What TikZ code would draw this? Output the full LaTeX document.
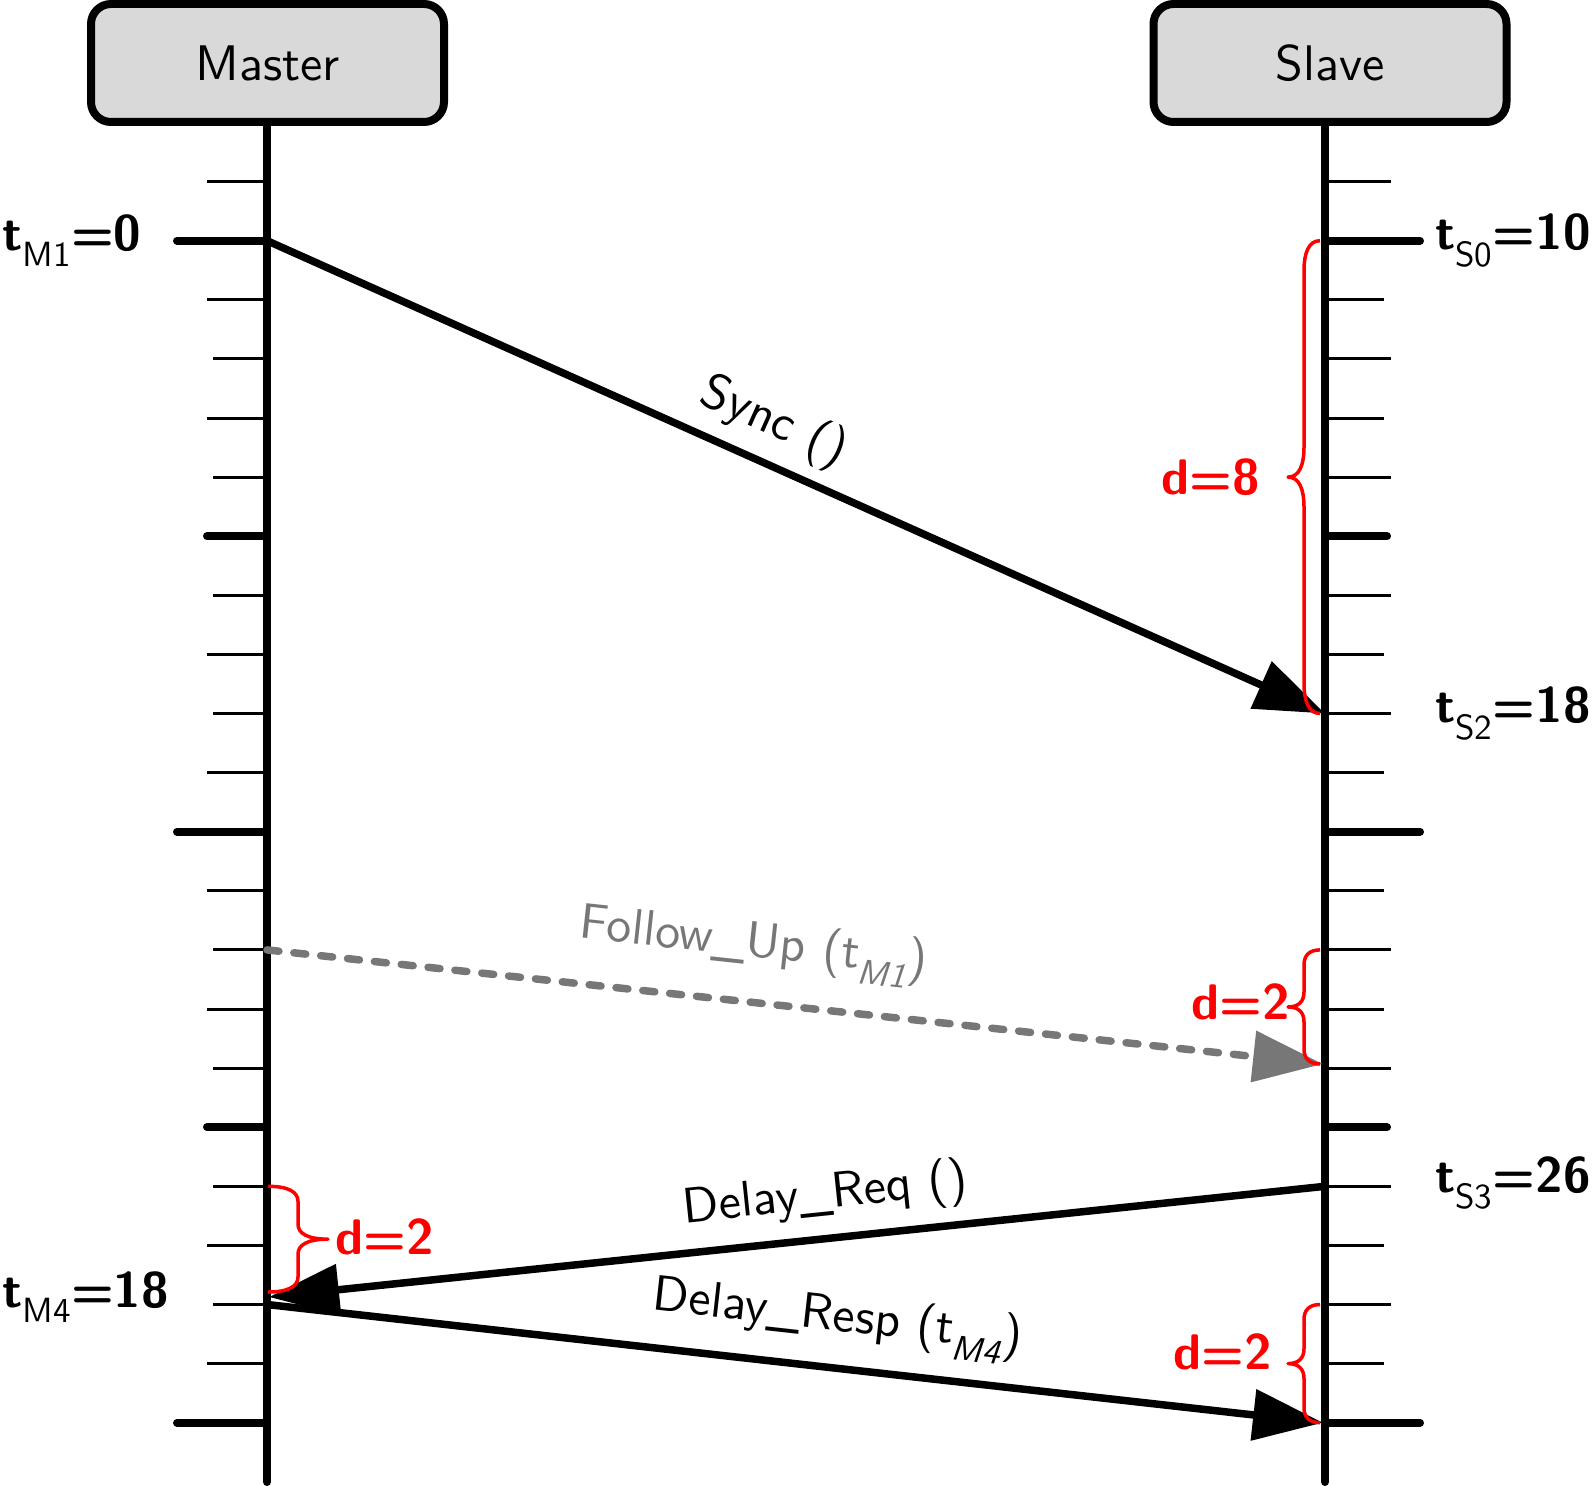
\documentclass[tikz,border=0pt]{standalone}
\usepackage{fontspec}
\setsansfont{lmsans10-regular.otf}[BoldFont=lmsans10-bold.otf, ItalicFont=lmsans10-oblique.otf, SlantedFont=lmsans10-oblique.otf, BoldItalicFont=lmsans10-boldoblique.otf]
\usetikzlibrary{arrows.meta}
\definecolor{boxgray}{RGB}{217,217,217}
\definecolor{msggray}{RGB}{119,119,119}
\newcommand\bigfont{\fontsize{50}{58}\selectfont\sffamily}
\newcommand\dbrace[5]{%
 \pgfmathsetmacro\bxa{#1+0.7*(#4)}%
 \pgfmathsetmacro\bxb{#1+(#4)}%
 \pgfmathsetmacro\bxc{#1+1.3*(#4)}%
 \pgfmathsetmacro\bxd{#1+2*(#4)}%
 \pgfmathsetmacro\bym{(#2+#3)/2}%
 \pgfmathsetmacro\byA{#2+0.4*#5}%
 \pgfmathsetmacro\byB{#2+#5}%
 \pgfmathsetmacro\byC{\bym-#5}%
 \pgfmathsetmacro\byD{\bym-0.4*#5}%
 \pgfmathsetmacro\byE{\bym+0.4*#5}%
 \pgfmathsetmacro\byF{\bym+#5}%
 \pgfmathsetmacro\byG{#3-#5}%
 \pgfmathsetmacro\byH{#3-0.4*#5}%
 \draw[bracered] (#1,#2) .. controls (\bxa,#2) and (\bxb,\byA) .. (\bxb,\byB) -- (\bxb,\byC) .. controls (\bxb,\byD) and (\bxc,\bym) .. (\bxd,\bym) .. controls (\bxc,\bym) and (\bxb,\byE) .. (\bxb,\byF) -- (\bxb,\byG) .. controls (\bxb,\byH) and (\bxa,#3) .. (#1,#3);
}
\begin{document}
\begin{tikzpicture}[x=1pt,y=-1pt,font=\bigfont,
  lifebox/.style={draw=black, line width=8pt, fill=boxgray, rounded corners=20pt,
    minimum width=353pt, minimum height=118pt, inner sep=0pt, font=\bigfont},
  lifeline/.style={line width=8pt, line cap=round},
  thicktick/.style={line width=8pt, line cap=round},
  thintick/.style={line width=3pt},
  msg/.style={line width=7.5pt, -{Triangle[length=70pt,width=50pt]}},
  msglabel/.style={sloped, inner sep=4pt, font=\bigfont},
  bracered/.style={draw=red, line width=3.5pt, line join=round},
  tlabel/.style={font=\bigfont\bfseries, inner sep=0pt, anchor=west},
  dlabel/.style={font=\bigfont\bfseries, text=red, inner sep=0pt}]
\useasboundingbox (0,0) rectangle (1592,1485);

% lifelines
\coordinate (mtop) at (267,126);
\coordinate (mend) at (267,1482);
\coordinate (stop) at (1325,126);
\coordinate (send) at (1325,1482);
\draw[lifeline] (mtop) -- (mend);
\draw[lifeline] (stop) -- (send);

% boxes
\node[lifebox] (master) at (267.5,63) {Master};
\node[lifebox] (slave) at (1330,63) {Slave};

% master ticks
\foreach \k in {0,10,20} {\pgfmathsetmacro\yy{240.7+59.1*\k}
  \draw[thicktick] (177,\yy) -- (267,\yy);}
\foreach \k in {5,15} {\pgfmathsetmacro\yy{240.7+59.1*\k}
  \draw[thicktick] (207,\yy) -- (267,\yy);}
\foreach \k in {-1,1,3,7,9,11,13,17,19} {\pgfmathsetmacro\yy{240.7+59.1*\k}
  \draw[thintick] (207,\yy) -- (265,\yy);}
\foreach \k in {2,4,6,8,12,14,16,18} {\pgfmathsetmacro\yy{240.7+59.1*\k}
  \draw[thintick] (213,\yy) -- (265,\yy);}
% slave ticks
\foreach \k in {0,10,20} {\pgfmathsetmacro\yy{240.7+59.1*\k}
  \draw[thicktick] (1325,\yy) -- (1420,\yy);}
\foreach \k in {5,15} {\pgfmathsetmacro\yy{240.7+59.1*\k}
  \draw[thicktick] (1325,\yy) -- (1387,\yy);}
\foreach \k in {1,3,7,9,11,13,17,19} {\pgfmathsetmacro\yy{240.7+59.1*\k}
  \draw[thintick] (1327,\yy) -- (1384,\yy);}
\foreach \k in {-1,2,4,6,8,12,14,16,18} {\pgfmathsetmacro\yy{240.7+59.1*\k}
  \draw[thintick] (1327,\yy) -- (1391,\yy);}

% time labels
\node[tlabel] (tm1) at (2,240.7) {t\textsubscript{\mdseries M1}=0};
\node[tlabel] (tm4) at (2,1297) {t\textsubscript{\mdseries M4}=18};
\node[tlabel] (ts0) at (1435,240.7) {t\textsubscript{\mdseries S0}=10};
\node[tlabel] (ts2) at (1435,713.5) {t\textsubscript{\mdseries S2}=18};
\node[tlabel] (ts3) at (1435,1183) {t\textsubscript{\mdseries S3}=26};

% message end points
\coordinate (m0) at (267,240.7);
\coordinate (s8) at (1325,713.5);
\coordinate (m12) at (267,949.9);
\coordinate (sfu) at (1323,1064);
\coordinate (s16) at (1325,1186.3);
\coordinate (mdr) at (269,1297);
\coordinate (m18) at (267,1304.5);
\coordinate (s20) at (1323,1422.7);

% messages
\draw[msg] (m0) -- node[msglabel, pos=0.463, above=8pt] (sync) {Sync ()} (s8);
\draw[msg, msggray, dash pattern=on 12pt off 15pt, line cap=round] (m12) --
  node[msglabel, pos=0.455, above=22pt] (fu) {Follow\_Up (t\textsubscript{\textsl{M1}})} (sfu);
\draw[msg, line cap=round] (s16) -- node[msglabel, pos=0.469, above=10pt] (dreq) {Delay\_Req ()} (mdr);
\draw[msg] (m18) -- node[msglabel, pos=0.535, above=14pt] (dresp) {Delay\_Resp (t\textsubscript{\textsl{M4}})} (s20);

% braces
\dbrace{1320}{240.7}{713.5}{-16}{30}
\dbrace{1320}{949.9}{1064}{-16}{15}
\dbrace{1320}{1304.5}{1422.7}{-16}{15}
\dbrace{268}{1186.3}{1292}{30}{15}

\node[dlabel] (d8) at (1211,477) {d=8};
\node[dlabel] (d2a) at (1241,1002) {d=2};
\node[dlabel] (d2b) at (1223,1352) {d=2};
\node[dlabel] (d2c) at (385,1237) {d=2};
\end{tikzpicture}
\end{document}
